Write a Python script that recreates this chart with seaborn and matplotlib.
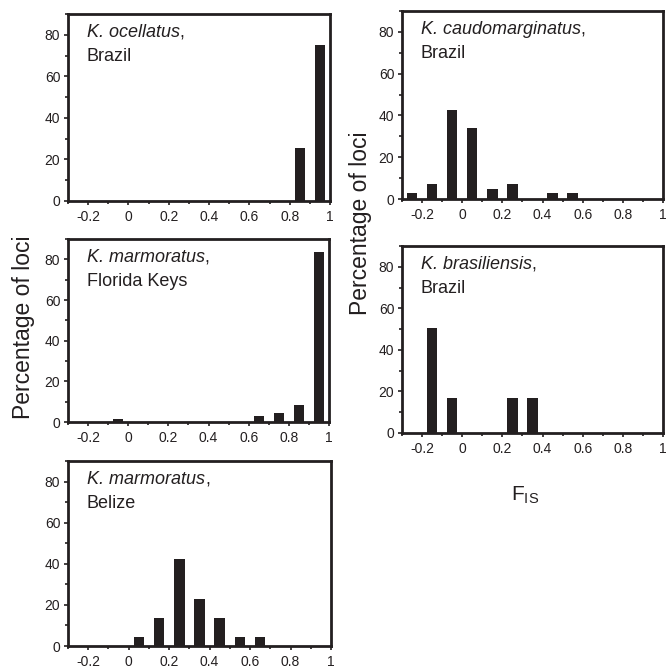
import matplotlib
matplotlib.use('Agg')
import matplotlib.pyplot as plt
import seaborn as sns
from matplotlib.ticker import FixedLocator, MultipleLocator, FuncFormatter

sns.set_theme(style='ticks')
plt.rcParams['font.family'] = ['Liberation Sans', 'DejaVu Sans']
plt.rcParams['axes.unicode_minus'] = False
plt.rcParams['mathtext.fontset'] = 'custom'
plt.rcParams['mathtext.rm'] = 'Liberation Sans'
plt.rcParams['mathtext.it'] = 'Liberation Sans:italic'

INK = '#231f20'

# ---- data -------------------------------------------------------------
bin_centers = [-0.25, -0.15, -0.05, 0.05, 0.15, 0.25, 0.35, 0.45, 0.55, 0.65, 0.75, 0.85, 0.95]

ocellatus_brazil      = [0, 0, 0, 0, 0, 0, 0, 0, 0, 0, 0, 25.3, 75.3]
marmoratus_florida    = [0, 0, 1.4, 0, 0, 0, 0, 0, 0, 2.8, 4.2, 8.5, 83.5]
marmoratus_belize     = [0, 0, 0, 4.3, 13.5, 42.5, 23.0, 13.5, 4.3, 4.3, 0, 0, 0]
caudomarginatus_brazil = [2.7, 7.2, 42.6, 33.9, 5.0, 7.2, 0, 2.7, 2.7, 0, 0, 0, 0]
brasiliensis_brazil   = [0, 50.5, 16.7, 0, 0, 16.7, 16.7, 0, 0, 0, 0, 0, 0]

x_major_ticks = [-0.2, 0, 0.2, 0.4, 0.6, 0.8, 1.0]
x_minor_ticks = [-0.3, -0.1, 0.1, 0.3, 0.5, 0.7, 0.9]

panels = [
    ('K. ocellatus', 'Brazil', ocellatus_brazil, (68, 330, 14, 201)),
    ('K. marmoratus', 'Florida Keys', marmoratus_florida, (68, 329, 239, 422)),
    ('K. marmoratus', 'Belize', marmoratus_belize, (68, 331, 461, 646)),
    ('K. caudomarginatus', 'Brazil', caudomarginatus_brazil, (402, 663, 11, 199)),
    ('K. brasiliensis', 'Brazil', brasiliensis_brazil, (402, 663, 246, 433)),
]

W, H = 666, 669
fig = plt.figure(figsize=(W / 100, H / 100), dpi=100)

for species, place, vals, (l, r, t, b) in panels:
    ax = fig.add_axes([l / W, 1 - b / H, (r - l) / W, (b - t) / H])
    sns.barplot(x=bin_centers, y=vals, native_scale=True, width=0.52,
                color=INK, saturation=1, linewidth=0, errorbar=None, ax=ax)
    ax.set_xlim(-0.3, 1.0)
    ax.set_ylim(0, 90)
    ax.xaxis.set_major_locator(FixedLocator(x_major_ticks))
    ax.xaxis.set_minor_locator(FixedLocator(x_minor_ticks))
    ax.xaxis.set_major_formatter(FuncFormatter(lambda v, p: f'{v:g}'))
    ax.yaxis.set_major_locator(MultipleLocator(20))
    ax.yaxis.set_minor_locator(MultipleLocator(10))
    ax.tick_params(axis='both', which='major', direction='out', length=3,
                   width=1.2, color=INK, labelcolor=INK, labelsize=10, pad=2.5)
    ax.tick_params(axis='both', which='minor', direction='out', length=2.5,
                   width=1.2, color=INK)
    ax.tick_params(axis='x', which='major', pad=3.5)
    for s in ax.spines.values():
        s.set_visible(True)
        s.set_linewidth(2)
        s.set_color(INK)
    ax.set_xlabel('')
    ax.set_ylabel('')
    ax.grid(False)

    t1 = ax.text(0.072, 0.945, species, transform=ax.transAxes, style='italic',
                 fontsize=13, va='top', ha='left', color=INK)
    ax.annotate(',', xy=(1, 0), xycoords=t1, va='bottom', ha='left',
                fontsize=13, color=INK)
    ax.annotate(place, xy=(0.072, 0.945), xycoords='axes fraction',
                xytext=(0, -17), textcoords='offset points',
                va='top', ha='left', fontsize=13, color=INK)

fig.text(24 / W, 1 - 327 / H, 'Percentage of loci', rotation=90,
         va='center', ha='center', fontsize=16.5, color=INK)
fig.text(360 / W, 1 - 223 / H, 'Percentage of loci', rotation=90,
         va='center', ha='center', fontsize=16.5, color=INK)
fig.text(525 / W, 1 - 495 / H, r'F$_{\mathrm{IS}}$', va='center', ha='center',
         fontsize=15, color=INK)

fig.savefig('out.png', dpi=100)
